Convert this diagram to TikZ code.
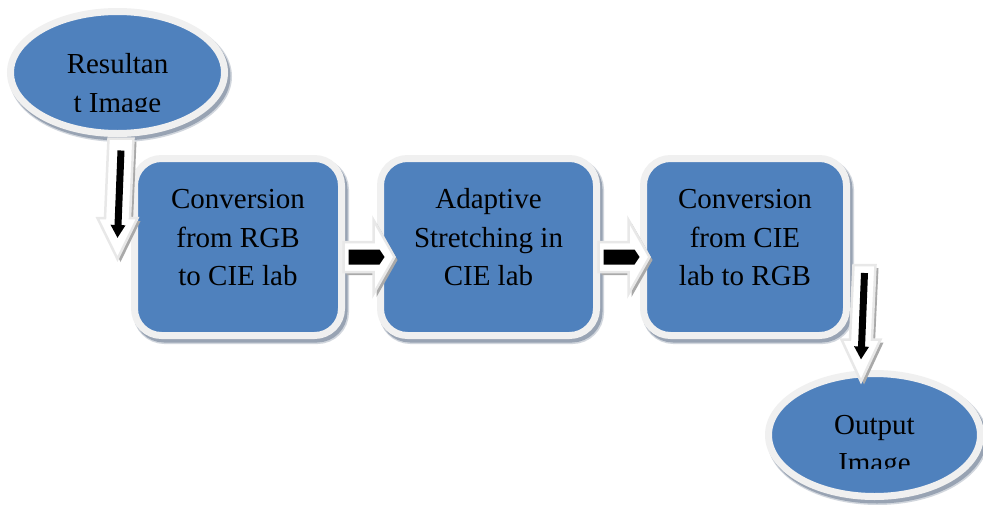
\documentclass[tikz,border=0pt]{standalone}
\usepackage{fontspec}
\setmainfont{Liberation Serif}
\usetikzlibrary{shapes.geometric,calc,arrows.meta}

\definecolor{nodeblue}{HTML}{4F81BD}
\definecolor{rimgray}{HTML}{F0F0F0}
\definecolor{shadowgray}{HTML}{98A3B3}
\definecolor{arrowrim}{HTML}{E8E8E8}
\definecolor{arrowshadow}{HTML}{A9A9A9}

% struts that make the middle of a multi-line label sit on its middle baseline
\newcommand\firstlinestrut{\rule{0pt}{20pt}}
\newcommand\lastlinestrut{\rule[-20pt]{0pt}{0pt}}

% block arrow pointing down: #1 start, #2 tip, #3 shaft half width, #4 head half width, #5 head length
\newcommand\downblock[5]{%
  \path[blockbody] ($(#1)+(-#3,0)$) -- ($(#2)+(-#3,-#5)$) -- ($(#2)+(-#4,-#5)$) -- (#2)
    -- ($(#2)+(#4,-#5)$) -- ($(#2)+(#3,-#5)$) -- ($(#1)+(#3,0)$) -- cycle;}
% block arrow pointing right, same arguments
\newcommand\rightblock[5]{%
  \path[blockbody] ($(#1)+(0,-#3)$) -- ($(#2)+(-#5,-#3)$) -- ($(#2)+(-#5,-#4)$) -- (#2)
    -- ($(#2)+(-#5,#4)$) -- ($(#2)+(-#5,#3)$) -- ($(#1)+(0,#3)$) -- cycle;}
% black bar with a short pointed end inside a right block arrow
\newcommand\blackbar[2]{%
  \fill[black] ($(#1)+(5,-7.5)$) -- ($(#2)+(-15,-7.5)$) -- ($(#2)+(-10,0)$)
    -- ($(#2)+(-15,7.5)$) -- ($(#1)+(5,7.5)$) -- cycle;}

\tikzset{
  shapeframe/.style={fill=nodeblue, draw=rimgray, line width=7pt, inner sep=0pt,
    font=\fontsize{29}{38.5}\selectfont, align=center,
    preaction={draw=shadowgray!45!white, fill=shadowgray!45!white, line width=9pt,
      transform canvas={xshift=3pt, yshift=-4pt}},
    preaction={draw=shadowgray, fill=shadowgray, line width=7pt,
      transform canvas={xshift=2.5pt, yshift=-3.5pt}}},
  ovalbox/.style={shapeframe, ellipse},
  roundbox/.style={shapeframe, rectangle, rounded corners=27pt},
  labeltext/.style={inner sep=0pt, font=\fontsize{29}{38.5}\selectfont, align=center},
  blockbody/.style={fill=white, draw=arrowrim, line width=2.5pt, line join=miter,
    preaction={fill=arrowshadow, transform canvas={xshift=3pt, yshift=-3pt}}},
  innerline/.style={draw=black, line width=7pt, -{Triangle[length=13pt, width=14pt]}},
}

\begin{document}
\begin{tikzpicture}[x=1pt, y=-1pt]
\clip (0,0) rectangle (983,504);
\fill[white] (0,0) rectangle (983,504);

% process boxes
\node[roundbox, minimum width=207pt, minimum height=177pt] (b1) at (238,247)
  {\firstlinestrut Conversion\\from RGB\\to CIE lab\lastlinestrut};
\node[roundbox, minimum width=216pt, minimum height=177pt] (b2) at (488.5,247)
  {\firstlinestrut Adaptive\\Stretching in\\CIE lab\lastlinestrut};
\node[roundbox, minimum width=203pt, minimum height=177pt] (b3) at (745,247)
  {\firstlinestrut Conversion\\from CIE\\lab to RGB\lastlinestrut};

% input and output ovals
\node[ovalbox, minimum width=214pt, minimum height=122pt] (e1) at (117.5,72.5) {};
\node[ovalbox, minimum width=212pt, minimum height=123pt] (e2) at (874.5,435) {};

% oval labels, cut off at the bottom of their text area
\begin{scope}
  \clip ($(e1.center)+(-105,-60)$) rectangle ($(e1.center)+(105,38.5)$);
  \node[labeltext] (e1text) at ($(e1.center)+(0,20.25)$)
    {\firstlinestrut Resultan\\t Image\lastlinestrut};
\end{scope}
\begin{scope}
  \clip ($(e2.center)+(-105,-60)$) rectangle ($(e2.center)+(105,33)$);
  \node[labeltext] (e2text) at ($(e2.center)+(0,18.25)$)
    {\firstlinestrut Output\\Image\lastlinestrut};
\end{scope}

% arrow ends
\coordinate (a1s) at ($(e1.south)+(3.5,1.5)$);
\coordinate (a1t) at ($(b1.west)+(-13.5,12)$);
\coordinate (a2s) at ($(b1.east)+(-1.5,10)$);
\coordinate (a2t) at ($(b2.west)+(17.5,10)$);
\coordinate (a3s) at ($(b2.east)+(-1.5,10)$);
\coordinate (a3t) at ($(b3.west)+(9.5,10)$);
\coordinate (a4s) at ($(b3.east)+(14.5,18)$);
\coordinate (a4t) at ($(e2.north)+(-13.5,11.5)$);

% block arrows with their black cores
\downblock{a1s}{a1t}{12.5}{20}{41}
\draw[innerline] ($(a1s)+(0,12)$) -- ($(a1t)+(0,-21)$);

\rightblock{a2s}{a2t}{15}{37}{21}
\blackbar{a2s}{a2t}

\rightblock{a3s}{a3t}{15}{37}{21}
\blackbar{a3s}{a3t}

\downblock{a4s}{a4t}{11}{19.5}{42}
\draw[innerline] ($(a4s)+(0,8)$) -- ($(a4t)+(0,-22)$);
\end{tikzpicture}
\end{document}
